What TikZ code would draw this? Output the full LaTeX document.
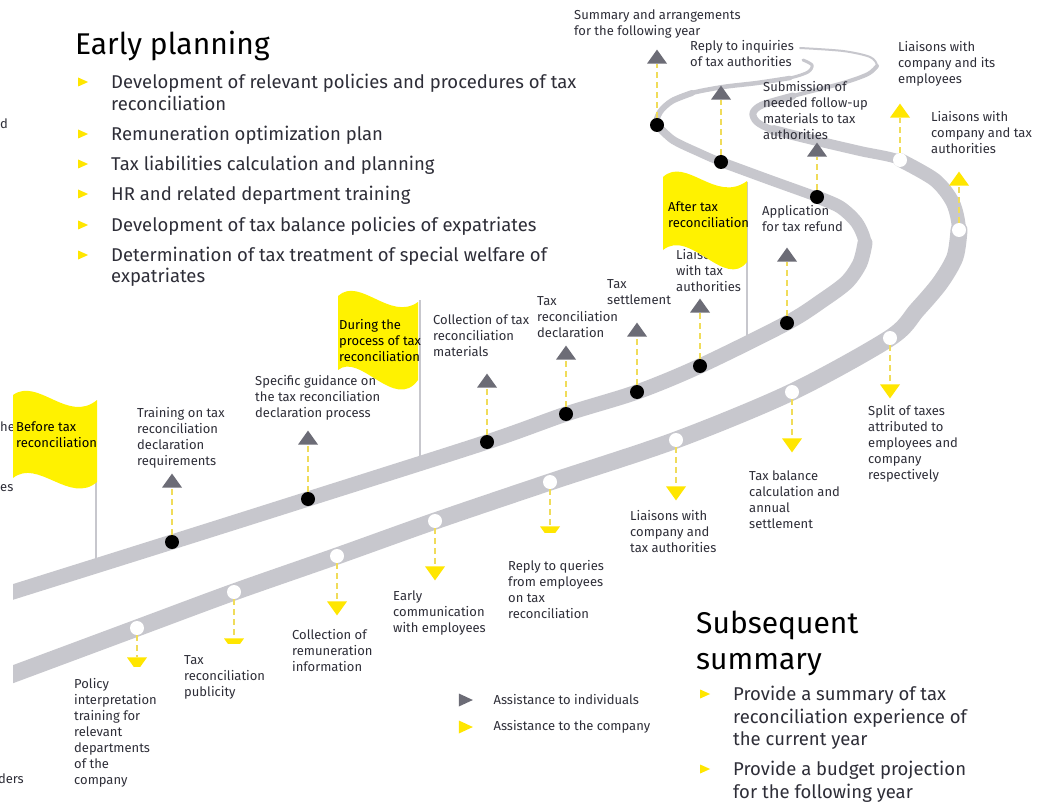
\documentclass[tikz,border=0pt]{standalone}
\usepackage{fontspec}
\setmainfont{Fira Sans}
\usetikzlibrary{positioning,shapes.geometric}

\definecolor{eyyellow}{HTML}{FFE600}
\definecolor{flagyellow}{HTML}{FFF200}
\definecolor{dashyellow}{HTML}{F0DC5A}
\definecolor{roadgray}{HTML}{C7C7CD}
\definecolor{markgray}{HTML}{6C6C76}
\definecolor{inkgray}{HTML}{2E2E38}

\begin{document}
\begin{tikzpicture}[x=1pt,y=-1pt,
    road/.style={draw=roadgray,line cap=round,line join=round},
    pole/.style={draw=roadgray,line width=2pt},
    blackdot/.style={circle,fill=black,inner sep=0pt,minimum size=14pt},
    whitedot/.style={circle,fill=white,inner sep=0pt,minimum size=14pt},
    tri/.style={isosceles triangle,isosceles triangle stretches,inner sep=0pt},
    greyup/.style={tri,fill=markgray,shape border rotate=90,minimum width=20pt,minimum height=14pt},
    yellowup/.style={tri,fill=eyyellow,shape border rotate=90,minimum width=20pt,minimum height=14pt},
    yellowdown/.style={tri,fill=eyyellow,shape border rotate=270,minimum width=20pt,minimum height=14pt},
    keymark/.style={tri,minimum width=13pt,minimum height=14pt},
    bulletmark/.style={tri,fill=eyyellow,minimum width=9pt,minimum height=10pt},
    link/.style={draw=dashyellow,line width=1.8pt,dash pattern=on 6pt off 4pt},
    lbl/.style={anchor=north west,align=left,inner sep=0pt,text=inkgray,
                font=\fontsize{13}{16}\selectfont},
    cover/.style={lbl,fill=white},
    flagtext/.style={lbl,text=black},
    heading/.style={anchor=north west,align=left,inner sep=0pt,
                    font=\fontsize{30}{36}\selectfont},
    item/.style={anchor=north west,align=left,inner sep=0pt,text=inkgray,
                 font=\fontsize{18.5}{21.5}\selectfont}]

  \fill[white] (0,0) rectangle (1040,802);
  \useasboundingbox (0,0) rectangle (1040,802);

  % flag poles
  \draw[pole] (96,405) -- (96,566);
  \draw[pole] (420,300) -- (420,470);
  \draw[pole] (747,182) -- (747,345);

  % the two roads
  \begin{scope}
    \clip (13,0) rectangle (1040,802);
    \draw[road,line width=2pt] plot[smooth] coordinates {(0,679) (137,628) (234,592) (337,556) (435,521) (550,482) (676,440) (792,392) (890,338) (917,310) (940,283) (955,257) (959,230) (953,203) (935,180) (900,160) (860,151) (813,140) (773,130) (757,122) (753,113) (762,105) (793,96) (843,83) (868,74) (877,66) (870,57) (843,51) (800,48)};
    \draw[road,line width=4pt] plot[smooth] coordinates {(0,679) (137,628) (234,592) (337,556) (435,521) (550,482) (676,440) (792,392) (890,338) (917,310) (940,283) (955,257) (959,230) (953,203) (935,180) (900,160) (860,151) (813,140) (773,130) (757,122) (753,113) (762,105) (793,96) (843,83) (868,74) (877,66)};
    \draw[road,line width=7pt] plot[smooth] coordinates {(0,679) (137,628) (234,592) (337,556) (435,521) (550,482) (676,440) (792,392) (890,338) (917,310) (940,283) (955,257) (959,230) (953,203) (935,180) (900,160) (860,151) (813,140) (773,130) (757,122) (753,113) (762,105) (793,96)};
    \draw[road,line width=10pt] plot[smooth] coordinates {(0,679) (137,628) (234,592) (337,556) (435,521) (550,482) (676,440) (792,392) (890,338) (917,310) (940,283) (955,257) (959,230) (953,203) (935,180) (900,160) (860,151) (813,140) (773,130)};
    \draw[road,line width=14pt] plot[smooth] coordinates {(0,679) (137,628) (234,592) (337,556) (435,521) (550,482) (676,440) (792,392) (890,338) (917,310) (940,283) (955,257) (959,230) (953,203) (935,180) (900,160)};
    \draw[road,line width=17pt] plot[smooth] coordinates {(0,679) (137,628) (234,592) (337,556) (435,521) (550,482) (676,440) (792,392) (890,338) (917,310) (940,283) (955,257) (959,230)};

    \draw[road,line width=3pt] plot[smooth] coordinates {(0,596) (172,542) (308,499) (487,442) (566,414) (637,392) (700,366) (787,323) (823,300) (847,282) (860,263) (865,243) (857,223) (840,207) (817,197) (770,180) (721,162) (700,153) (673,140) (657,125) (660,112) (672,101) (692,93) (723,87) (757,83) (790,78) (808,72) (812,65) (803,60)};
    \draw[road,line width=4.5pt] plot[smooth] coordinates {(0,596) (172,542) (308,499) (487,442) (566,414) (637,392) (700,366) (787,323) (823,300) (847,282) (860,263) (865,243) (857,223) (840,207) (817,197) (770,180) (721,162) (700,153) (673,140) (657,125) (660,112) (672,101) (692,93) (723,87) (757,83) (790,78)};
    \draw[road,line width=6pt] plot[smooth] coordinates {(0,596) (172,542) (308,499) (487,442) (566,414) (637,392) (700,366) (787,323) (823,300) (847,282) (860,263) (865,243) (857,223) (840,207) (817,197) (770,180) (721,162) (700,153) (673,140) (657,125) (660,112) (672,101) (692,93)};
    \draw[road,line width=8pt] plot[smooth] coordinates {(0,596) (172,542) (308,499) (487,442) (566,414) (637,392) (700,366) (787,323) (823,300) (847,282) (860,263) (865,243) (857,223) (840,207) (817,197) (770,180) (721,162) (700,153) (673,140) (657,125)};
    \draw[road,line width=10pt] plot[smooth] coordinates {(0,596) (172,542) (308,499) (487,442) (566,414) (637,392) (700,366) (787,323) (823,300) (847,282) (860,263) (865,243) (857,223) (840,207) (817,197) (770,180) (721,162)};
    \draw[road,line width=13pt] plot[smooth] coordinates {(0,596) (172,542) (308,499) (487,442) (566,414) (637,392) (700,366) (787,323) (823,300) (847,282) (860,263) (865,243) (857,223) (840,207) (817,197)};
    \draw[road,line width=15pt] plot[smooth] coordinates {(0,596) (172,542) (308,499) (487,442) (566,414) (637,392) (700,366) (787,323) (823,300) (847,282) (860,263) (865,243)};
  \end{scope}

  % stops for individuals
  \node[blackdot] (a1) at (172,542) {};
  \node[blackdot] (a2) at (308,499) {};
  \node[blackdot] (a3) at (487,442) {};
  \node[blackdot] (a4) at (566,414) {};
  \node[blackdot] (a5) at (637,392) {};
  \node[blackdot] (a6) at (700,366) {};
  \node[blackdot] (a7) at (787,323) {};
  \node[blackdot] (a8) at (817,197) {};
  \node[blackdot] (a9) at (721,162) {};
  \node[blackdot] (a10) at (657,125) {};
  \node[greyup, above=47pt of a1] (ta1) {};
  \node[greyup, above=47pt of a2] (ta2) {};
  \node[greyup, above=47pt of a3] (ta3) {};
  \node[greyup, above=47pt of a4] (ta4) {};
  \node[greyup, above=48pt of a5] (ta5) {};
  \node[greyup, above=46pt of a6] (ta6) {};
  \node[greyup, above=54pt of a7] (ta7) {};
  \node[greyup, above=33pt of a8] (ta8) {};
  \node[greyup, above=55pt of a9] (ta9) {};
  \node[greyup, above=54pt of a10] (ta10) {};

  % stops for the company
  \node[whitedot] (b1) at (137,628) {};
  \node[whitedot] (b2) at (234,592) {};
  \node[whitedot] (b3) at (337,556) {};
  \node[whitedot] (b4) at (435,521) {};
  \node[whitedot] (b5) at (550,482) {};
  \node[whitedot] (b6) at (676,440) {};
  \node[whitedot] (b7) at (792,392) {};
  \node[whitedot] (b8) at (890,338) {};
  \node[whitedot] (b9) at (959,230) {};
  \node[whitedot] (b10) at (900,160) {};
  \node[yellowdown, below=22pt of b1] (tb1) {};
  \node[yellowdown, below=39pt of b2] (tb2) {};
  \node[yellowdown, below=38pt of b3] (tb3) {};
  \node[yellowdown, below=38pt of b4] (tb4) {};
  \node[yellowdown, below=37pt of b5] (tb5) {};
  \node[yellowdown, below=39pt of b6] (tb6) {};
  \node[yellowdown, below=39pt of b7] (tb7) {};
  \node[yellowdown, below=39pt of b8] (tb8) {};
  \node[yellowup, above=37pt of b9] (tb9) {};
  \node[yellowup, above=35pt of b10] (tb10) {};

  \draw[link] (a1) -- (ta1);
  \draw[link] (a2) -- (ta2);
  \draw[link] (a3) -- (ta3);
  \draw[link] (a4) -- (ta4);
  \draw[link] (a5) -- (ta5);
  \draw[link] (a6) -- (ta6);
  \draw[link] (a7) -- (ta7);
  \draw[link] (a8) -- (ta8);
  \draw[link] (a9) -- (ta9);
  \draw[link] (a10) -- (ta10);
  \draw[link] (b1) -- (tb1);
  \draw[link] (b2) -- (tb2);
  \draw[link] (b3) -- (tb3);
  \draw[link] (b4) -- (tb4);
  \draw[link] (b5) -- (tb5);
  \draw[link] (b6) -- (tb6);
  \draw[link] (b7) -- (tb7);
  \draw[link] (b8) -- (tb8);
  \draw[link] (b9) -- (tb9);
  \draw[link] (b10) -- (tb10);

  % labels
  \node[lbl] (la10) at (574,9.5) {Summary and arrangements\\for the following year};
  \node[lbl] (la9) at (690,40.5) {Reply to inquiries\\of tax authorities};
  \node[lbl] (la8) at (763,81.5) {Submission of\\needed follow-up\\materials to tax\\authorities};
  \node[lbl] (lb10) at (898,41.5) {Liaisons with\\company and its\\employees};
  \node[lbl] (lb9) at (931,111.5) {Liaisons with\\company and tax\\authorities};
  \node[lbl] (la7) at (762,205.5) {Application\\for tax refund};
  \node[lbl] (la6) at (676,249.5) {Liaisons\\with tax\\authorities};
  \node[lbl] (la5) at (607,279.5) {Tax\\settlement};
  \node[lbl] (la4) at (537,296.5) {Tax\\reconciliation\\declaration};
  \node[lbl] (la3) at (433,314.5) {Collection of tax\\reconciliation\\materials};
  \node[lbl] (la1) at (137,407.5) {Training on tax\\reconciliation\\declaration\\requirements};
  \node[lbl] (lb8) at (868,405.5) {Split of taxes\\attributed to\\employees and\\company\\respectively};
  \node[lbl] (lb7) at (749,470.5) {Tax balance\\calculation and\\annual\\settlement};
  \node[lbl] (lb6) at (630,510.5) {Liaisons with\\company and\\tax authorities};
  \node[cover,inner xsep=4pt,inner ysep=27.5pt] (lb5) at (504,533) {Reply to queries\\from employees\\on tax\\reconciliation};
  \node[lbl] (lb4) at (393,590.5) {Early\\communication\\with employees};
  \node[lbl] (lb3) at (292,629.5) {Collection of\\remuneration\\information};
  \node[cover,inner sep=12pt] (lb2) at (172,643.5) {Tax\\reconciliation\\publicity};
  \node[cover,inner sep=12pt] (lb1) at (62,666.5) {Policy\\interpretation\\training for\\relevant\\departments\\of the\\company};

  % texts cut by the left edge
  \node[lbl,anchor=base east] (cut1) at (8,128.5) {d};
  \node[lbl,anchor=base west] (cut2) at (0,431.5) {he};
  \node[lbl,anchor=base west] (cut3) at (0,491.5) {es};
  \node[lbl,anchor=base east] (cut4) at (24,783.5) {ders};

  % flags
  \fill[flagyellow] (13,395) .. controls (38,377) and (68,424) .. (97,400)
    -- (97,482) .. controls (70,505) and (38,458) .. (13,478) -- cycle;
  \fill[flagyellow] (338,296) .. controls (360,276) and (390,322) .. (418,302)
    -- (418,380) .. controls (395,412) and (360,352) .. (338,370) -- cycle;
  \fill[flagyellow] (663,177) .. controls (686,156) and (716,204) .. (747,181)
    -- (747,262) .. controls (725,290) and (690,228) .. (663,250) -- cycle;
  \node[flagtext] (before) at (16,421.5) {Before tax\\reconciliation};
  \node[flagtext] (during) at (339,319.5) {During the\\process of tax\\reconciliation};
  \node[flagtext] (after) at (668,201.5) {After tax\\reconciliation};
  \node[lbl] (la2) at (255,375.5) {Specific guidance on\\the tax reconciliation\\declaration process};

  % early planning
  \node[heading] (early) at (75,30.5) {Early planning};
  \node[item] (e1) at (111,74) {Development of relevant policies and procedures of tax\\reconciliation};
  \node[item] (e2) at (111,126) {Remuneration optimization plan};
  \node[item] (e3) at (111,156) {Tax liabilities calculation and planning};
  \node[item] (e4) at (111,186) {HR and related department training};
  \node[item] (e5) at (111,216.5) {Development of tax balance policies of expatriates};
  \node[item] (e6) at (111,246.5) {Determination of tax treatment of special welfare of\\expatriates};
  \node[bulletmark] (m1) at (81,82) {};
  \node[bulletmark] (m2) at (81,134) {};
  \node[bulletmark] (m3) at (81,164) {};
  \node[bulletmark] (m4) at (81,194) {};
  \node[bulletmark] (m5) at (81,225) {};
  \node[bulletmark] (m6) at (81,255) {};

  % subsequent summary
  \node[heading] (subseq) at (696,610.5) {Subsequent\\summary};
  \node[item,font=\fontsize{18.5}{22.5}\selectfont] (s1) at (733,686) {Provide a summary of tax\\reconciliation experience of\\the current year};
  \node[item,font=\fontsize{18.5}{22.5}\selectfont] (s2) at (733,761) {Provide a budget projection\\for the following year};
  \node[bulletmark] (n1) at (703,694) {};
  \node[bulletmark] (n2) at (703,769) {};

  % legend
  \node[keymark,fill=markgray] (keyind) at (463,700) {};
  \node[keymark,fill=eyyellow] (keycom) at (463,727) {};
  \node[lbl,anchor=west,right=20pt of keyind] (keyindtext) {Assistance to individuals};
  \node[lbl,anchor=west,right=20pt of keycom] (keycomtext) {Assistance to the company};
\end{tikzpicture}
\end{document}
